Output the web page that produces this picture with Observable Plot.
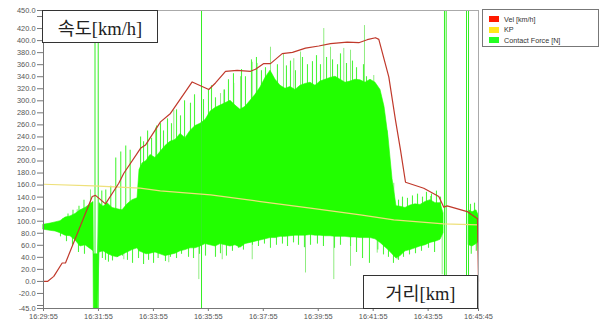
<!DOCTYPE html>
<html>
<head>
<meta charset="utf-8">
<script src="https://cdn.jsdelivr.net/npm/d3@7"></script>
<script src="https://cdn.jsdelivr.net/npm/@observablehq/plot@0.6"></script>
<style>
  body { margin: 0; background: #fff; }
  #wrap { position: relative; width: 601px; height: 326px; overflow: hidden; }
  .tbox { position: absolute; background: #fff; border: 1.5px solid #333; box-sizing: border-box;
          display: flex; align-items: center; justify-content: center;
          font-family: "Liberation Serif", "Noto Sans CJK KR", serif; font-size: 18.5px; color: #222; }
  .legend { position: absolute; left: 482px; top: 9px; width: 117px; height: 38px; box-sizing: border-box;
            border: 1px solid #777; background: #fff; font-family: "Liberation Sans", sans-serif;
            font-size: 7.2px; color: #333; }
  .item { position: absolute; left: 6px; height: 8px; display: flex; align-items: center; }
  .sw { width: 10px; height: 6px; margin-right: 5px; }
</style>
</head>
<body>
<div id="wrap"></div>
<script>
// ---- time axis ----
const startTime = "16:29:55";
const endTime = "16:45:45";
const xTickLabels = ["16:29:55","16:31:55","16:33:55","16:35:55","16:37:55","16:39:55","16:41:55","16:43:55","16:45:45"];
const yTicks = [-45,-40,-20,0,20,40,60,80,100,120,140,160,180,200,220,240,260,280,300,320,340,360,380,400,420,440,450];

// ---- Vel [km/h] (seconds from start, value) ----
const velT = [0,8.7,22.5,40.8,48,106.4,113.6,135.4,164.4,175.4,204.6,211.8,222.7,255.5,277.3,324.7,361,375.6,397.5,423,452.1,463,481.1,495.7,521.3,543.8,572.2,601.2,626.8,663.2,688.6,706.9,725.1,732.3,754.1,768.7,779.7,790.6,830.5,863.3,874.2,881.6,925.3,947.8,950];
const velV = [0,0,8.4,30.6,30.6,141,142.9,128.8,163,179.6,212.7,221,226.5,265,279,331.3,318.7,329.6,349,350.7,349,352.3,361.8,361.8,378.3,380.5,387.6,391,395,397.5,396.5,401.5,404.8,402,339.6,268,218.2,164.7,154.8,140.9,123.3,125.5,116,104,0];

// ---- KP ----
const kpT = [0,109,211,255,365,474,583,692,765,874,950];
const kpV = [161.4,158.6,154.8,150.3,143.7,132.6,121.7,110.6,102.3,95.7,94];

// ---- Contact Force [N]: dense band envelope ----
const forceT = [0,15.3,26.2,37.1,48,59,69.9,80.8,91.7,102.6,
  109.2,110,119,122.3,131,139.8,150.7,161.6,172.5,183.4,
  194.4,205.3,209.7,216.2,224.9,233.7,244.6,255.5,266.4,277.3,
  288.3,299.2,310.1,321,331.9,342.9,353.8,364.7,375.6,386.5,
  397.5,408.4,419.3,430.2,441.1,452.1,463,473.9,484.8,495.7,
  506.7,517.6,528.5,539.4,550.3,561.3,572.2,583.1,594,604.9,
  615.9,626.8,637.7,648.6,659.5,670.5,681.4,692.3,703.2,714.1,
  725.1,736,744.7,753.4,762.2,770.9,779.7,790.6,801.5,812.4,
  823.3,834.2,845.2,856.1,867,873.6,900,929.2,936.9,945.6,
  950];
const forceHi = [94,96,98,100,106,108,112,118,122,128,
  132,45,45,130,124,130,122,120,118,128,
  135,138,185,196,200,210,205,215,225,232,
  235,245,238,250,258,262,268,282,288,292,
  296,300,292,285,290,300,310,322,338,350,
  335,325,320,323,318,325,328,330,325,332,
  335,338,340,335,330,332,335,334,330,335,
  330,318,290,240,170,125,124,122,126,128,
  127,132,135,130,130,113,null,118,115,118,
  110];
const forceLo = [86,84,83,80,76,75,68,58,60,54,
  50,-45,-45,48,50,46,42,40,44,48,
  52,55,50,48,45,46,48,45,42,44,
  46,50,52,55,55,58,62,60,58,62,
  60,58,60,56,62,64,66,68,70,72,
  72,74,74,75,76,76,76,77,76,76,
  75,75,74,74,74,73,73,72,72,72,
  70,64,58,52,45,38,42,50,52,55,
  58,60,64,66,69,80,null,60,58,62,
  65];

// jagged tips of the dense band (seconds, tip value)
const tipUpT = [42.6,53.5,64.4,77.5,88.4,127.3,136,146.9,157.8,168.7,179.6,189.3,212,218.5,227.3,236,246.9,255.5,262.1,270.8,279.5,290.5,299.2,308,321,329.8,349.4,360.3,366.9,375.6,395.3,404,414.9,432.4,441.1,454.2,465.1,476,484.8,497.9,510.9,530.6,539.4,550.3,565.6,576.5,587.4,596.2,604.9,618.1,631.2,642.1,648.6,661.7,674.8,683.6,698.8,705.4,720.7,727.2,736,742.5,775.3,784,794.9,805.8,816.8,827.7,836.4,847.3,858.2,867,932.5,941.3];
const tipUpV = [104,112,118,125,135,150,152,158,205,215,225,218,240,232,250,238,258,262,250,270,262,285,275,300,296,310,302,318,325,305,318,335,345,352,340,368,372,350,355,345,360,358,366,350,372,360,365,375,360,372,368,360,378,362,366,355,360,340,320,290,250,200,135,140,138,142,145,140,148,145,150,140,128,130];
const tipDnT = [37.1,50.2,63.3,76.4,89.5,128.6,135.4,141.9,150.7,161.6,172.5,183.4,194.4,207.5,218.5,229.4,240.3,250.3,266.4,277.3,290.5,301.4,316.7,327.6,340.7,353.8,375.6,386.5,399.6,412.7,425.8,436.7,456.4,469.5,482.6,495.7,508.8,521.9,532.9,546,556.9,569.9,583.1,598.3,611.4,635.5,648.6,670.5,683.6,696.7,711.9,730.1,742.5,753.4,764.3,775.3,786.2,799.3,812.4,825.5,840.8,854,934.2,945.2];
const tipDnV = [74,66,60,48,45,38,35,32,34,40,42,35,30,38,28,35,30,38,33,40,38,45,40,38,45,42,40,46,42,50,55,52,60,58,62,55,60,62,58,64,60,56,60,62,58,55,60,58,48,38,30,52,44,40,30,35,40,44,46,50,55,48,45,50];

// isolated pale spikes
const upT  = [73.6,102.6,244.6,284.6,321,386.5,393.8,415.6,430.2,455.8,466.7,495.7,524.1,546.6,561.3,612.1,626.8,655.8,670.5,701,721.3,750.6,765,845.2];
const upHi = [119,152,255,284,290,312,318,329,340,364,362,389,378,370,381,420,389,387,384,425,342,250,163,141];
const downT  = [175.4,273.6,339.2,390.3,455.8,572.2,634,670.5,728.8,772.4,870.7];
const downLo = [36,31,3,36,36,14,3,25,47,36,11];
// full-range dropouts
const dropT = [112.5,119.5,345.1,875.7,879.4,923.8,928.2];

// ---- legend ----
const legendLabels = ["Vel [km/h]","KP","Contact Force [N]"];
const legendColors = ["#ff1a00","#ffe81a","#22ff22"];

// ---- build ----
const parse = d3.utcParse("%H:%M:%S");
const t0 = parse(startTime), t1 = parse(endTime);
const at = s => new Date(+t0 + s * 1000);
const xTicks = xTickLabels.map(parse);

const vel = velT.map((t, i) => ({t: at(t), v: velV[i]}));
const kp = kpT.map((t, i) => ({t: at(t), v: kpV[i]}));
const force = forceT.map((t, i) => ({t: at(t), hi: forceHi[i], lo: forceLo[i]}));
const tipsUp = tipUpT.map((t, i) => ({t: at(t), v: tipUpV[i]}));
const tipsDn = tipDnT.map((t, i) => ({t: at(t), v: tipDnV[i]}));
const ups = upT.map((t, i) => ({t: at(t), v: upHi[i]}));
const downs = downT.map((t, i) => ({t: at(t), v: downLo[i]}));
const drops = dropT.map(at);

const chart = Plot.plot({
  width: 601, height: 326,
  marginLeft: 43, marginRight: 123, marginTop: 10, marginBottom: 18,
  x: {type: "utc", domain: [t0, t1]},
  y: {domain: [-45, 450]},
  style: {fontFamily: "Liberation Sans, sans-serif", fontSize: "7.4px", color: "#555", background: "#fff"},
  marks: [
    Plot.ruleX(ups, {x: "t", y1: 100, y2: "v", stroke: "#8fec80", strokeWidth: 1}),
    Plot.ruleX(downs, {x: "t", y1: 85, y2: "v", stroke: "#8fec80", strokeWidth: 1}),
    Plot.ruleX(tipsUp, {x: "t", y1: 100, y2: "v", stroke: "#4cf53a", strokeWidth: 1.1}),
    Plot.ruleX(tipsDn, {x: "t", y1: 85, y2: "v", stroke: "#4cf53a", strokeWidth: 1.1}),
    Plot.areaY(force, {x: "t", y1: "lo", y2: "hi", fill: "#22ff00", stroke: "#22ff00", strokeWidth: 0.6}),
    Plot.ruleX(drops, {y1: -45, y2: 450, stroke: "#33ee22", strokeWidth: 1}),
    Plot.line(kp, {x: "t", y: "v", stroke: "#eee07a", strokeWidth: 1.2}),
    Plot.line(vel, {x: "t", y: "v", stroke: "#c0392b", strokeWidth: 1.2}),
    Plot.frame({stroke: "#aaa"}),
    Plot.ruleX([t0], {stroke: "#777"}),
    Plot.ruleY([-45], {stroke: "#777"}),
    Plot.axisY(yTicks, {tickSize: 6, tickPadding: 2, stroke: "#777", label: null,
      tickFormat: d => (d === 440 || d === -40) ? "" : d.toFixed(1)}),
    Plot.axisX(xTicks, {tickSize: 3, tickPadding: 2, stroke: "#777", label: null, tickFormat: d3.utcFormat("%H:%M:%S")})
  ]
});

const wrap = document.getElementById("wrap");
wrap.appendChild(chart);

function box(text, left, top, w, h) {
  const d = document.createElement("div");
  d.className = "tbox";
  d.style.left = left + "px"; d.style.top = top + "px";
  d.style.width = w + "px"; d.style.height = h + "px";
  d.textContent = text;
  wrap.appendChild(d);
}
box("속도[km/h]", 42, 10, 116, 33);
box("거리[km]", 363, 275, 115, 34);

const lg = document.createElement("div");
lg.className = "legend";
legendLabels.forEach((lab, i) => {
  const it = document.createElement("div");
  it.className = "item";
  it.style.top = (5 + i * 10.5) + "px";
  const sw = document.createElement("div");
  sw.className = "sw"; sw.style.background = legendColors[i];
  const tx = document.createElement("span");
  tx.textContent = lab;
  it.appendChild(sw); it.appendChild(tx);
  lg.appendChild(it);
});
wrap.appendChild(lg);
</script>
</body>
</html>
